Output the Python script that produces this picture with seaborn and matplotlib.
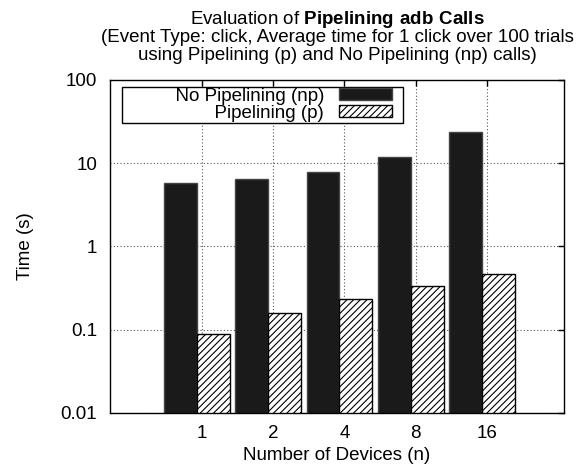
import matplotlib
matplotlib.use("Agg")
import matplotlib.pyplot as plt
import seaborn as sns
import pandas as pd
from matplotlib.container import BarContainer
from matplotlib.legend_handler import HandlerPatch, update_from_first_child
from matplotlib.patches import Rectangle

# values
devices = ["1", "2", "4", "8", "16"]
no_pipelining = [5.8, 6.45, 7.8, 11.9, 23.4]
pipelining = [0.089, 0.157, 0.235, 0.333, 0.461]
series_names = ["No Pipelining (np)", "Pipelining (p)"]
y_ticks = [0.01, 0.1, 1, 10, 100]
y_tick_labels = ["0.01", "0.1", "1", "10", "100"]
title_lines = ["Evaluation of $\\bf{Pipelining\\ adb\\ Calls}$",
               "(Event Type: click, Average time for 1 click over 100 trials",
               "using Pipelining (p) and No Pipelining (np) calls)"]

df = pd.DataFrame({
    "devices": devices * 2,
    "time": no_pipelining + pipelining,
    "series": [series_names[0]] * len(devices) + [series_names[1]] * len(devices),
})

sns.set_style("white")
plt.rcParams["font.family"] = ["Liberation Sans", "DejaVu Sans"]
plt.rcParams["mathtext.fontset"] = "custom"
plt.rcParams["mathtext.rm"] = "Liberation Sans"
plt.rcParams["mathtext.bf"] = "Liberation Sans:bold"
plt.rcParams["hatch.linewidth"] = 0.8
plt.rcParams["text.color"] = "black"
plt.rcParams["axes.labelcolor"] = "black"

fs = 13.5
fig = plt.figure(figsize=(5.81, 4.65), dpi=100)
ax = fig.add_axes([0.189, 0.112, 0.782, 0.716])

sns.barplot(data=df, x="devices", y="time", hue="series", order=devices,
            hue_order=series_names, palette=["#1a1a1a", "white"],
            width=0.92, edgecolor="black", linewidth=1.0, legend=False, ax=ax)

for bar in ax.containers[1]:
    bar.set_hatch("/////")
    bar.set_facecolor("white")
    bar.set_edgecolor("black")
for bar in ax.containers[0]:
    bar.set_edgecolor("#444444")

ax.set_yscale("log")
ax.set_ylim(0.01, 100)
ax.set_yticks(y_ticks)
ax.set_yticklabels(y_tick_labels)
ax.yaxis.set_minor_locator(matplotlib.ticker.NullLocator())

ax.set_xticks([i + 0.07 for i in range(len(devices))])
ax.set_xticklabels(devices)
ax.set_xlim(-1.22, 5.15)

ax.set_axisbelow(True)
ax.grid(True, axis="both", linestyle=(0, (1, 2)), color="#555555", linewidth=0.8)
ax.tick_params(direction="in", length=4, width=1, top=True, right=True,
               labelsize=fs, pad=9, colors="black")
for s in ax.spines.values():
    s.set_color("black")
    s.set_linewidth(1.0)

ax.set_xlabel("Number of Devices (n)", fontsize=fs, labelpad=3)
ax.set_ylabel("Time (s)", fontsize=fs, labelpad=19)

# three title lines, centred over the axes
for line, y in zip(title_lines, [0.958, 0.919, 0.881]):
    fig.text(0.58, y, line, ha="center", va="center", fontsize=fs)


# gnuplot-style key: sample box a bit shorter than its slot, leaving a right margin
def key_sample(legend, orig_handle, xdescent, ydescent, width, height, fontsize):
    return Rectangle((-xdescent, -ydescent), width * 0.845, height)


labels = ["          " + n for n in series_names]
leg = ax.legend(handles=ax.containers, labels=labels, loc="upper left",
                bbox_to_anchor=(0.026, 0.98), markerfirst=False, frameon=True,
                fancybox=False, edgecolor="black", fontsize=fs,
                borderpad=0.05, labelspacing=0.0, handlelength=3.4,
                handleheight=0.6, handletextpad=0.78, borderaxespad=0.0,
                framealpha=1,
                handler_map={BarContainer: HandlerPatch(patch_func=key_sample,
                                                        update_func=update_from_first_child)})
leg.get_frame().set_linewidth(1.0)
for t in leg.get_texts():
    t.set_ha("right")

fig.savefig("out.png", dpi=100)
